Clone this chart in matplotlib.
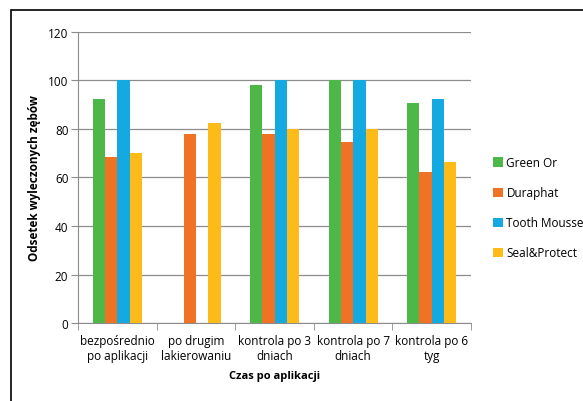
import matplotlib.pyplot as plt
import numpy as np
from matplotlib.patches import Rectangle

categories = ["bezpośrednio\npo aplikacji", "po drugim\nlakierowaniu",
              "kontrola po 3\ndniach", "kontrola po 7\ndniach", "kontrola po 6\ntyg"]
series = ["Green Or", "Duraphat", "Tooth Mousse", "Seal&Protect"]
green_or = [92.5, np.nan, 98.2, 100, 90.6]
duraphat = [68.5, 78, 78, 74.8, 62.3]
tooth_mousse = [100, np.nan, 100, 100, 92.5]
seal_protect = [70, 82.4, 80, 80, 66.4]
colors = ["#4DB848", "#F07224", "#14A9E0", "#FDBB1A"]

plt.rcParams['font.family'] = ['Open Sans', 'DejaVu Sans']

fig = plt.figure(figsize=(5.83, 4.02), dpi=100)
ax = fig.add_axes([0.134, 0.194, 0.674, 0.724])

x = np.arange(len(categories))
w = 0.157
for i, (name, vals) in enumerate(zip(series, [green_or, duraphat, tooth_mousse, seal_protect])):
    ax.bar(x + (i - 1.5) * w, vals, w, color=colors[i], label=name, zorder=3)

ax.set_xlim(-0.5, len(categories) - 0.5)
ax.set_ylim(0, 120)
ax.set_yticks(range(0, 121, 20))
ax.yaxis.grid(True, color="#8c8c8c", linewidth=0.9, zorder=0)
for s in ["top", "right"]:
    ax.spines[s].set_visible(False)
ax.spines["left"].set_color("#8c8c8c")
ax.spines["bottom"].set_color("#8c8c8c")
ax.set_xticks(x)
ax.set_xticklabels(categories, fontsize=8.5)
ax.set_xticks(np.arange(-0.5, len(categories)), minor=True)
ax.tick_params(axis="x", which="major", length=0, pad=8)
ax.tick_params(axis="x", which="minor", length=5, color="#8c8c8c")
ax.tick_params(axis="y", length=5, color="#8c8c8c", labelsize=8.5, pad=2)
ax.set_xlabel("Czas po aplikacji", fontsize=8, fontweight="bold", labelpad=6)
ax.set_ylabel("Odsetek wyleczonych zębów", fontsize=8.5, fontweight="bold", labelpad=5)

ax.legend(loc="upper left", bbox_to_anchor=(1.03, 0.61), frameon=False, fontsize=8.5,
          handlelength=0.8, handleheight=0.8, handletextpad=0.3, labelspacing=1.45)

fig.patches.append(Rectangle((11 / 583, -0.1), 1.2, 1 - 11 / 402 + 0.1, transform=fig.transFigure,
                             fill=False, edgecolor="black", linewidth=1.2))

fig.savefig("out.png", dpi=100)
